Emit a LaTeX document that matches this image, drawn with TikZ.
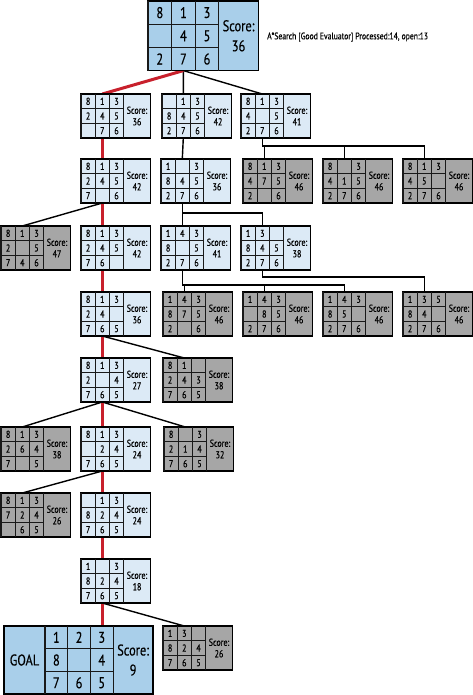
\documentclass[tikz,border=0pt]{standalone}
\usepackage{fontspec}
\setmainfont{PT Sans}[FakeStretch=0.8,FakeBold=0.4]
\usetikzlibrary{calc}
\pgfdeclarelayer{bg}
\pgfsetlayers{bg,main}
\definecolor{lightfill}{HTML}{DCEAF6}
\definecolor{strongfill}{HTML}{A9CFEA}
\definecolor{grayfill}{HTML}{A6A6A6}
\definecolor{pathred}{HTML}{C8202C}
\tikzset{
 pzbox/.style={draw=black, line width=1.4pt, inner sep=0pt, outer sep=0pt},
 lightpz/.style={fill=lightfill},
 strongpz/.style={fill=strongfill},
 graypz/.style={fill=grayfill},
 gridline/.style={draw=black!90, line width=1.2pt},
 cell/.style={inner sep=0pt, anchor=center},
 link/.style={draw=black, line width=1.4pt},
 best/.style={draw=pathred, line width=3pt},
 smallfont/.style={font=\fontsize{10}{11.5}\selectfont},
 bigfont/.style={font=\fontsize{15.5}{20}\selectfont},
 labelfont/.style={font=\fontsize{9.6}{11}\selectfont},
}
% #1 name, #2 x, #3 y, #4 fill style, #5 cells, #6 font style, #7 score
\newcommand{\puz}[7]{%
 \pgfmathsetmacro\tw{\gx+3*\cw+\sw}\pgfmathsetmacro\th{3*\ch}%
 \node[pzbox,#4,minimum width=\tw pt,minimum height=\th pt,anchor=north west] (#1) at (#2,#3) {};
 \foreach \k in {0,1,2,3}{\draw[gridline] ($(#1.north west)+({\gx+\k*\cw},0)$) -- ($(#1.north west)+({\gx+\k*\cw},\th)$);}
 \foreach \k in {1,2}{\draw[gridline] ($(#1.north west)+(\gx,{\k*\ch})$) -- ($(#1.north west)+({\gx+3*\cw},{\k*\ch})$);}
 \foreach \v [count=\i from 0] in {#5}{%
   \pgfmathsetmacro\cc{mod(\i,3)}\pgfmathsetmacro\rr{floor(\i/3)}%
   \node[cell,#6] (#1-\i) at ($(#1.north west)+({\gx+(\cc+0.5)*\cw},{(\rr+0.5)*\ch})$) {\v};}
 \node[#6,align=center,inner sep=0pt] (#1-s) at ($(#1.north west)+({\gx+3*\cw+\sw/2},{1.5*\ch})$) {Score:\\#7};
 \coordinate (#1t) at ($(#1.north west)+({\gx+1.5*\cw},0)$);
 \coordinate (#1b) at ($(#1.north west)+({\gx+1.5*\cw},\th)$);
}
\begin{document}
\begin{tikzpicture}[x=1pt,y=-1pt]
\useasboundingbox (0,0) rectangle (473,695);
% root
\def\gx{0}\def\cw{23.6}\def\ch{23.2}\def\sw{39.5}
\puz{R}{148}{1}{strongpz}{8,1,3,,4,5,2,7,6}{bigfont}{36}
\node[labelfont,anchor=west,inner sep=0pt] (title) at (267,37) {A*Search [Good Evaluator] Processed:14, open:13};
% small puzzles
\def\gx{0}\def\cw{14.2}\def\ch{14.67}\def\sw{26.8}
\puz{A1}{81}{94}{lightpz}{8,1,3,2,4,5,,7,6}{smallfont}{36}
\puz{A2}{162}{94}{lightpz}{,1,3,8,4,5,2,7,6}{smallfont}{42}
\puz{A3}{241}{94}{lightpz}{8,1,3,4,,5,2,7,6}{smallfont}{41}
\puz{B1}{81}{159}{lightpz}{8,1,3,2,4,5,7,,6}{smallfont}{42}
\puz{B2}{161}{159}{lightpz}{1,,3,8,4,5,2,7,6}{smallfont}{36}
\puz{C1}{243}{159}{graypz}{8,1,3,4,7,5,2,,6}{smallfont}{46}
\puz{C2}{323}{159}{graypz}{8,,3,4,1,5,2,7,6}{smallfont}{46}
\puz{C3}{403}{159}{graypz}{8,1,3,4,5,,2,7,6}{smallfont}{46}
\puz{D0}{1}{226}{graypz}{8,1,3,2,,5,7,4,6}{smallfont}{47}
\puz{D1}{81}{226}{lightpz}{8,1,3,2,4,5,7,6,}{smallfont}{42}
\puz{D2}{161}{226}{lightpz}{1,4,3,8,,5,2,7,6}{smallfont}{41}
\puz{D3}{241}{226}{lightpz}{1,3,,8,4,5,2,7,6}{smallfont}{38}
\puz{E1}{81}{292}{lightpz}{8,1,3,2,4,,7,6,5}{smallfont}{36}
\puz{F1}{163}{292}{graypz}{1,4,3,8,7,5,2,,6}{smallfont}{46}
\puz{F2}{243}{292}{graypz}{1,4,3,,8,5,2,7,6}{smallfont}{46}
\puz{F3}{323}{292}{graypz}{1,4,3,8,5,,2,7,6}{smallfont}{46}
\puz{F4}{403}{292}{graypz}{1,3,5,8,4,,2,7,6}{smallfont}{46}
\puz{G1}{81}{358}{lightpz}{8,1,3,2,,4,7,6,5}{smallfont}{27}
\puz{G2}{163}{358}{graypz}{8,1,,2,4,3,7,6,5}{smallfont}{38}
\puz{H0}{1}{427}{graypz}{8,1,3,2,6,4,7,,5}{smallfont}{38}
\puz{H1}{81}{427}{lightpz}{8,1,3,,2,4,7,6,5}{smallfont}{24}
\puz{H2}{164}{427}{graypz}{8,,3,2,1,4,7,6,5}{smallfont}{32}
\puz{I0}{1}{493}{graypz}{8,1,3,7,2,4,,6,5}{smallfont}{26}
\puz{I1}{81}{493}{lightpz}{,1,3,8,2,4,7,6,5}{smallfont}{24}
\puz{J1}{81}{559}{lightpz}{1,,3,8,2,4,7,6,5}{smallfont}{18}
\puz{K}{163}{626}{graypz}{1,3,,8,2,4,7,6,5}{smallfont}{26}
% goal
\def\gx{41}\def\cw{22.7}\def\ch{22.7}\def\sw{40}
\puz{GO}{4}{626}{strongpz}{1,2,3,8,,4,7,6,5}{bigfont}{9}
\node[bigfont,inner sep=0pt] (GO-l) at ($(GO.north west)+(20.5,34)$) {GOAL};
% bus coordinates
\coordinate (busA3) at ($(A3b)+(0,8)$);
\coordinate (busB2) at ($(B2b)+(0,10)$);
\coordinate (busD2) at ($(D2b)+(0,15)$);
\coordinate (busD3) at ($(D3b)+(0,7)$);
\begin{pgfonlayer}{bg}
\draw[link] (Rb) -- (A2t);
\draw[link] (Rb) -- (A3t);
\draw[link] (A3b) -- (busA3) -| (C1t);
\draw[link] (busA3) -| (C2t);
\draw[link] (busA3) -| (C3t);
\draw[link] (A2b) -- (B2t);
\draw[link] (B1b) -- (D0t);
\draw[link] (B2b) -- (busB2) -| (D2t);
\draw[link] (busB2) -| (D3t);
\draw[link] (D2b) -- (busD2) -| (F1t);
\draw[link] (busD2) -| (F2t);
\draw[link] (busD2) -| (F3t);
\draw[link] (D3b) -- (busD3) -| (F4t);
\draw[link] (E1b) -- (G2t);
\draw[link] (G1b) -- (H0t);
\draw[link] (G1b) -- (H2t);
\draw[link] (H1b) -- (I0t);
\draw[link] (J1b) -- (Kt);
\draw[best] (Rb) -- (A1t);
\draw[best] (A1b) -- (B1t) (B1b) -- (D1t) (D1b) -- (E1t) (E1b) -- (G1t) (G1b) -- (H1t) (H1b) -- (I1t) (I1b) -- (J1t);
\draw[best] (J1b) -- (J1b |- GO.north);
\end{pgfonlayer}
\end{tikzpicture}
\end{document}
